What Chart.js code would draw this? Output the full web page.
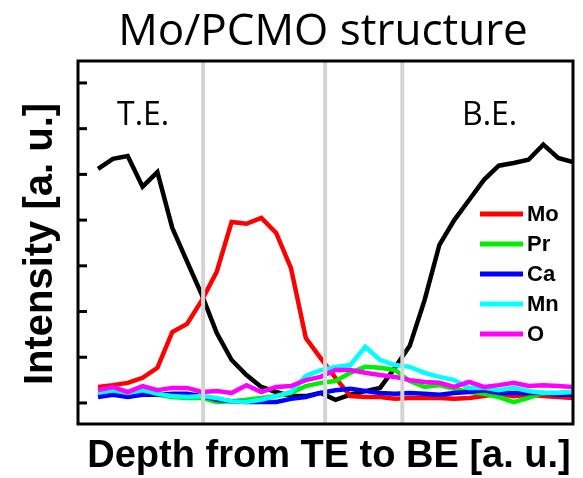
<!DOCTYPE html>
<html>
<head>
<meta charset="utf-8">
<script src="https://cdn.jsdelivr.net/npm/chart.js@4.4.1/dist/chart.umd.min.js"></script>
<style>
  html, body { margin: 0; padding: 0; background: #ffffff; }
  #wrap { width: 583px; height: 478px; }
</style>
</head>
<body>
<div id="wrap"><canvas id="c" width="583" height="478"></canvas></div>
<script>
// Depth sample positions (arbitrary units, TE -> BE)
const depth = [0,1,2,3,4,5,6,7,8,9,10,11,12,13,14,15,16,17,18,19,20,21,22,23,24,25,26,27,28,29,30,31,32];

// Electrode signal (unlabelled black trace)
const electrode = [5.12,5.34,5.40,4.73,5.05,3.83,3.09,2.36,1.53,0.94,0.61,0.35,0.24,0.15,0.15,0.22,0.07,0.18,0.26,0.33,0.77,1.25,2.25,3.46,4.00,4.44,4.88,5.19,5.25,5.32,5.65,5.36,5.27];
const mo = [0.35,0.39,0.44,0.55,0.77,1.55,1.73,2.25,2.87,3.96,3.92,4.05,3.72,2.95,1.42,0.98,0.55,0.15,0.13,0.13,0.09,0.11,0.11,0.11,0.09,0.11,0.15,0.20,0.15,0.18,0.15,0.13,0.11];
const pr = [0.18,0.22,0.18,0.20,0.18,0.13,0.11,0.11,0.02,0.04,0.07,0.11,0.15,0.22,0.37,0.44,0.48,0.66,0.79,0.77,0.72,0.48,0.35,0.39,0.31,0.24,0.20,0.13,0.02,0.11,0.22,0.22,0.24];
const ca = [0.13,0.18,0.13,0.18,0.18,0.20,0.20,0.15,0.07,0.04,0.02,0.02,0.02,0.09,0.13,0.22,0.28,0.31,0.26,0.22,0.20,0.22,0.20,0.18,0.22,0.24,0.28,0.22,0.22,0.22,0.22,0.18,0.18];
const mn = [0.22,0.28,0.22,0.28,0.20,0.15,0.13,0.15,0.11,0.04,0.02,0.07,0.15,0.24,0.59,0.72,0.79,0.83,1.23,0.94,0.83,0.79,0.66,0.57,0.50,0.33,0.33,0.28,0.33,0.26,0.22,0.22,0.24];
const ox = [0.28,0.35,0.24,0.37,0.28,0.33,0.33,0.24,0.26,0.22,0.39,0.24,0.35,0.37,0.50,0.57,0.72,0.72,0.66,0.61,0.57,0.50,0.46,0.44,0.35,0.46,0.35,0.39,0.44,0.37,0.39,0.37,0.35];

// Layer boundaries (depth units) and y tick values
const boundaries = [7.08, 15.3, 20.5];
const yTicks = [0, 1, 2, 3, 4, 5, 6, 7];

const series = [
  { label: 'O',  data: ox,  color: '#ff00ff' },
  { label: 'Mn', data: mn,  color: '#00ffff' },
  { label: 'Ca', data: ca,  color: '#0000ff' },
  { label: 'Pr', data: pr,  color: '#00ee00' },
  { label: 'Mo', data: mo,  color: '#ff0000' },
  { label: '',   data: electrode, color: '#000000' }
];
const legendOrder = ['Mo', 'Pr', 'Ca', 'Mn', 'O'];

const datasets = series.map(s => ({
  label: s.label,
  data: depth.map((d, i) => ({ x: d, y: s.data[i] })),
  borderColor: s.color,
  backgroundColor: s.color,
  borderWidth: 4.5,
  pointRadius: 0,
  tension: 0,
  fill: false
}));

const decorations = {
  id: 'decorations',
  afterDatasetsDraw(chart) {
    const { ctx, chartArea: a, scales: { x, y } } = chart;
    ctx.save();
    // layer boundaries
    ctx.strokeStyle = '#d4d4d4';
    ctx.lineWidth = 4;
    boundaries.forEach(b => {
      const px = x.getPixelForValue(b);
      ctx.beginPath();
      ctx.moveTo(px, a.top);
      ctx.lineTo(px, a.bottom);
      ctx.stroke();
    });
    // frame
    ctx.strokeStyle = '#000';
    ctx.lineWidth = 3;
    ctx.strokeRect(a.left, a.top, a.right - a.left, a.bottom - a.top);
    // inward y ticks
    yTicks.forEach(v => {
      const py = y.getPixelForValue(v);
      ctx.beginPath();
      ctx.moveTo(a.left, py);
      ctx.lineTo(a.left + 9, py);
      ctx.stroke();
    });
    // legend
    ctx.font = 'bold 22px "Liberation Sans", Arial, sans-serif';
    ctx.textBaseline = 'middle';
    ctx.textAlign = 'left';
    legendOrder.forEach((name, i) => {
      const ds = chart.data.datasets.find(d => d.label === name);
      const ly = 214 + i * 30;
      ctx.strokeStyle = ds.borderColor;
      ctx.lineWidth = 5;
      ctx.beginPath();
      ctx.moveTo(480, ly);
      ctx.lineTo(523, ly);
      ctx.stroke();
      ctx.fillStyle = '#000';
      ctx.fillText(name, 527, ly + 1);
    });
    // electrode labels
    ctx.font = '32px "Open Sans", sans-serif';
    ctx.textBaseline = 'alphabetic';
    ctx.fillText('T.E.', 117, 125);
    ctx.fillText('B.E.', 462, 125);
    ctx.restore();
  },
  afterDraw(chart) {
    const { ctx } = chart;
    ctx.save();
    ctx.fillStyle = '#000';
    ctx.textBaseline = 'alphabetic';
    ctx.textAlign = 'center';
    ctx.font = '44px "Open Sans", sans-serif';
    ctx.fillText('Mo/PCMO structure', 323, 45);
    ctx.font = 'bold 38px "Liberation Sans", Arial, sans-serif';
    ctx.fillText('Depth from TE to BE [a. u.]', 329, 467);
    ctx.font = 'bold 40px "Liberation Sans", Arial, sans-serif';
    ctx.translate(52, 244);
    ctx.rotate(-Math.PI / 2);
    ctx.fillText('Intensity [a. u.]', 0, 0);
    ctx.restore();
  }
};

new Chart(document.getElementById('c'), {
  type: 'line',
  data: { datasets },
  options: {
    responsive: false,
    animation: false,
    devicePixelRatio: 1,
    layout: { padding: { left: 78, right: 10, top: 61, bottom: 54 } },
    plugins: { legend: { display: false }, tooltip: { enabled: false }, title: { display: false } },
    scales: {
      x: { type: 'linear', min: -1.35, max: 32, display: false },
      y: { type: 'linear', min: -0.46, max: 7.48, display: false }
    }
  },
  plugins: [decorations]
});
</script>
</body>
</html>
